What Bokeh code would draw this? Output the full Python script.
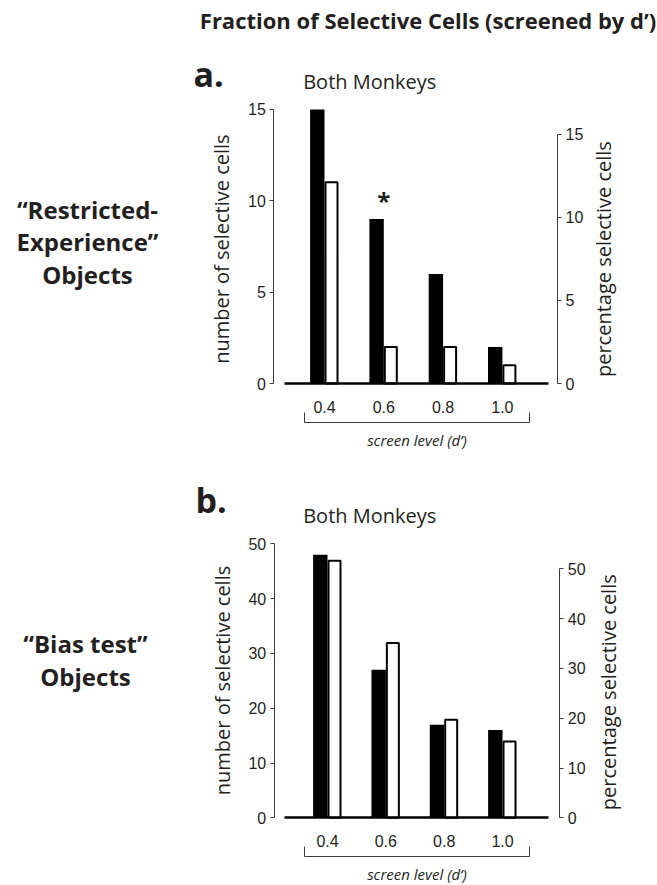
import math
from bokeh.plotting import figure
from bokeh.models import (Range1d, LinearAxis, FixedTicker,
                          ColumnDataSource, PrintfTickFormatter)
from bokeh.transform import dodge
from bokeh.core.properties import value
from bokeh.embed import file_html
from bokeh.resources import INLINE

# ---------------- data ----------------
screen_levels = [0.4, 0.6, 0.8, 1.0]
tick_labels = ["0.4", "0.6", "0.8", "1.0"]

# panel a: "Restricted-Experience" objects
a_num_cells = [15, 9, 6, 2]            # black bars, left axis
a_pct_cells = [12.1, 2.2, 2.2, 1.1]    # white bars, right axis
a_sig = ["", "*", "", ""]
a_left_ticks = [0, 5, 10, 15]
a_right_ticks = [0, 5, 10, 15]

# panel b: "Bias test" objects
b_num_cells = [48, 27, 17, 16]
b_pct_cells = [51.6, 35.1, 19.7, 15.3]
b_sig = ["", "", "", ""]
b_left_ticks = [0, 10, 20, 30, 40, 50]
b_right_ticks = [0, 10, 20, 30, 40, 50]

main_title = "Fraction of Selective Cells (screened by d\u2019)"
panel_title = "Both Monkeys"
x_label = "screen level (d\u2019)"
a_ylabel_left = "number of  selective cells"
a_ylabel_right = "percentage  selective cells"
b_ylabel_left = "number of selective cells"
b_ylabel_right = "percentage selective cells"
a_side_text = ["\u201cRestricted-", "Experience\u201d", "Objects"]
b_side_text = ["\u201cBias test\u201d", "Objects"]

# ---------------- style / geometry (page pixels) ----------------
INK = "#231f20"
AXC = "#3a3a3a"
W, H = 657, 885
BASE_K = 0.4   # baseline correction, in em

geo_a = dict(name="a", x_px0=324, ppx=296.5, y_px0=383, ppy=18.27, ppy_r=16.63,
             left_px=273.3, right_px=557, base=(0.266, 1.156),
             bracket=(0.334, 1.092), bracket_px=421.7, lab_so=7, sig_px=19)
geo_b = dict(name="b", x_px0=327, ppx=291.7, y_px0=817.3, ppy=5.48, ppy_r=4.98,
             left_px=273.7, right_px=559.3, base=(0.2535, 1.158),
             bracket=(0.321, 1.0937), bracket_px=855.7, lab_so=7, sig_px=19)

# one canvas; its default ranges are the page's own pixel grid (y up)
p = figure(width=W, height=H, output_backend="svg", toolbar_location=None,
           title_location=None, x_axis_location=None, y_axis_location=None,
           x_range=Range1d(0, W), y_range=Range1d(0, H),
           min_border_left=0, min_border_right=0,
           min_border_top=0, min_border_bottom=0)
p.outline_line_color = None
p.grid.visible = False


def py(v):
    """page pixel row (from top) -> default-range y value"""
    return H - v


def style_axis(ax):
    ax.axis_line_color = AXC
    ax.axis_line_width = 1
    ax.major_tick_line_color = AXC
    ax.major_tick_out = 4
    ax.major_tick_in = 0
    ax.minor_tick_out = 0
    ax.minor_tick_in = 0
    ax.major_label_text_font = "Liberation Sans"
    ax.major_label_text_font_size = "16px"
    ax.major_label_text_color = INK
    ax.major_label_standoff = 4
    ax.axis_label_text_font = "Open Sans"
    ax.axis_label_text_font_size = "20px"
    ax.axis_label_text_font_style = "normal"
    ax.axis_label_text_color = INK


def add_text(x, y, text, size, style="normal", align="left", angle=0.0):
    """x, y: page pixels of the text's baseline anchor"""
    d = BASE_K * size
    if angle:
        x -= d
    else:
        y -= d
    p.text(x=[x], y=[py(y)], text=[text], angle=angle,
           text_font=value("Open Sans"), text_font_size=f"{size}px",
           text_font_style=style, text_color=INK, text_align=align,
           text_baseline="alphabetic")


def add_panel(g, nums, pcts, sig, lticks, rticks, ylab_l):
    n = g["name"]
    xs = 0.4 - g["x_px0"] / g["ppx"]
    p.extra_x_ranges["x" + n] = Range1d(xs, xs + W / g["ppx"])
    yb = H - g["y_px0"]  # pixels below the zero line
    p.extra_y_ranges["y" + n] = Range1d(-yb / g["ppy"], g["y_px0"] / g["ppy"])
    p.extra_y_ranges["p" + n] = Range1d(-yb / g["ppy_r"], g["y_px0"] / g["ppy_r"])

    src = ColumnDataSource(dict(
        x=screen_levels, num=nums, pct=pcts, sig=sig,
        sig_y=[v + g["sig_px"] / g["ppy"] for v in nums]))
    xr = p.extra_x_ranges["x" + n]
    p.vbar(x=dodge("x", -7.2 / g["ppx"], range=xr), top="num", bottom=0,
           width=14.4 / g["ppx"], source=src, fill_color="black",
           line_color=None, x_range_name="x" + n, y_range_name="y" + n)
    p.vbar(x=dodge("x", 7.0 / g["ppx"], range=xr), top="pct", bottom=0,
           width=12.0 / g["ppx"], source=src, fill_color="white",
           line_color="black", line_width=2,
           x_range_name="x" + n, y_range_name="p" + n)
    p.text(x="x", y="sig_y", text="sig", source=src,
           x_range_name="x" + n, y_range_name="y" + n,
           text_font=value("Open Sans"), text_font_style="bold",
           text_font_size="24px", text_color=INK, text_align="center",
           text_baseline="alphabetic")

    la = LinearAxis(y_range_name="y" + n, fixed_location=g["left_px"],
                    ticker=FixedTicker(ticks=lticks),
                    bounds=(lticks[0], lticks[-1]), axis_label=ylab_l)
    style_axis(la)
    la.axis_label_standoff = 10
    p.add_layout(la, "left")

    ra = LinearAxis(y_range_name="p" + n, fixed_location=g["right_px"],
                    ticker=FixedTicker(ticks=rticks),
                    bounds=(rticks[0], rticks[-1]))
    style_axis(ra)
    p.add_layout(ra, "right")

    xa = LinearAxis(x_range_name="x" + n, fixed_location=py(g["y_px0"]),
                    ticker=FixedTicker(ticks=screen_levels), bounds=g["base"],
                    major_label_overrides=dict(zip(screen_levels, tick_labels)))
    style_axis(xa)
    xa.formatter = PrintfTickFormatter(format="%.1f")
    xa.axis_line_color = "black"
    xa.axis_line_width = 2.5
    xa.major_tick_out = 0
    xa.major_label_standoff = 17
    p.add_layout(xa, "below")

    ba = LinearAxis(x_range_name="x" + n, fixed_location=py(g["bracket_px"]),
                    ticker=FixedTicker(ticks=list(g["bracket"])),
                    bounds=g["bracket"], axis_label=x_label)
    style_axis(ba)
    ba.major_tick_in = 10
    ba.major_tick_out = 0
    ba.major_label_text_font_size = "0px"
    ba.major_label_text_alpha = 0
    ba.major_label_standoff = 0
    ba.axis_label_standoff = g["lab_so"]
    ba.axis_label_text_font_style = "italic"
    ba.axis_label_text_font_size = "15px"
    p.add_layout(ba, "below")


add_panel(geo_a, a_num_cells, a_pct_cells, a_sig, a_left_ticks, a_right_ticks,
          a_ylabel_left)
add_panel(geo_b, b_num_cells, b_pct_cells, b_sig, b_left_ticks, b_right_ticks,
          b_ylabel_left)

# free text (baseline anchors in page pixels)
add_text(427.5, 28.3, main_title, 22, "bold", "center")
add_text(193, 87.3, "a.", 34, "bold")
add_text(302.7, 89.3, panel_title, 20)
for line, base in zip(a_side_text, [218.5, 251, 283.5]):
    add_text(87, base, line, 24, "bold", "center")
add_text(611, 256, a_ylabel_right, 20, "normal", "center", math.pi / 2)

add_text(195, 512.7, "b.", 34, "bold")
add_text(302.7, 523.3, panel_title, 20)
for line, base in zip(b_side_text, [652.7, 686]):
    add_text(85, base, line, 24, "bold", "center")
add_text(616, 691.7, b_ylabel_right, 20, "normal", "center", math.pi / 2)

with open("out.html", "w") as f:
    f.write(file_html(p, INLINE))
